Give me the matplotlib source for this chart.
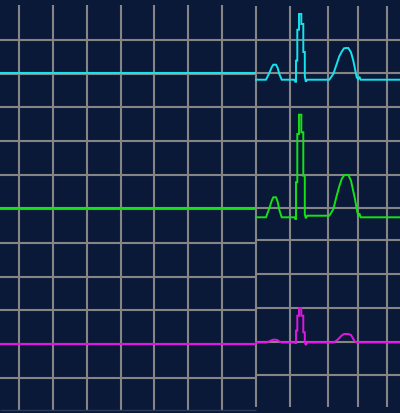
import matplotlib
matplotlib.use('Agg')
import matplotlib.pyplot as plt

# colours
bg = '#0b1939'
grid_col = '#858585'
colors = ['#14e4ee', '#14e214', '#e414e4']

# left panel: flat traces (baseline y in pixels)
left_end = 256
left_base = [74.3, 209.4, 345.0]

# right panel: one beat, shared sample times (repeated times = vertical steps)
t = [256, 266, 269.3, 271.7, 273.3, 276, 277.7, 279.3, 281.7,
     294.3, 295.3, 296, 296, 297.3, 297.3, 299, 299, 301.3, 301.3, 303.3,
     303.3, 304.8, 304.8, 305.8, 307.3,
     329.3, 333.3, 336.7, 339.3, 341.7, 344, 346, 348.3, 351, 353.3, 355,
     356.7, 358.3, 359.3, 360.7, 400]
right_base = [80.7, 218.3, 343.5]

# amplitudes above baseline (pixels up)
cyan_amp = [0, 0, 6.7, 12.4, 15, 15, 11.7, 5.7, 0,
            0, -2, -2, 19, 19, 50, 50, 65.7, 65.7, 55.7, 55.7,
            27.7, 27.7, 3.7, -2, 0,
            0, 5.7, 15.7, 23.4, 28, 31.4, 31.7, 31.7, 27.4, 19, 10.7,
            2.4, 0.7, 3, 0, 0]
green_amp = [0, 0, 9, 16.5, 20, 20, 15.5, 7.5, 0,
             0, -1.7, -1.7, 35, 35, 83.3, 83.3, 102.6, 102.6, 85, 85,
             41.6, 41.6, 3.3, -1, 1.6,
             1.6, 8, 21.6, 31, 38.3, 42, 42.3, 42.3, 36.6, 26, 18.3,
             8.3, 1, 4, 0, 0]
magenta_amp = [0, 0, 1.2, 2.3, 2.8, 2.8, 2.2, 1, 0,
               0, -0.5, -0.5, 11.8, 11.8, 26.8, 26.8, 34.5, 34.5, 26.8, 26.8,
               10.2, 10.2, 0.2, -2.5, 0,
               0, 0, 2, 4.5, 7, 8.5, 8.5, 8.5, 7.5, 3.5, 1,
               0, 0, 0, 0, 0]
amps = [cyan_amp, green_amp, magenta_amp]

# grid layout
left_vx = [19, 52.7, 86.7, 120.7, 154.3, 188.3, 222.3]
left_hy = [40.7, 74.5, 108.3, 142, 176, 210, 243.5, 277.5, 311, 345, 379]
right_vx = [256, 289.7, 328.3, 357.7, 386.7]
right_hy = [40.7, 74, 108, 141.7, 175.7, 209, 241, 275, 309, 342.7, 376]

fig = plt.figure(figsize=(4, 4.14), dpi=100, facecolor=bg)
ax = fig.add_axes([0, 0, 1, 1])
ax.set_facecolor(bg)
ax.set_xlim(0, 400)
ax.set_ylim(414, 0)
ax.axis('off')

lw_grid = 1.5
ax.vlines(left_vx, 6, 411.5, color=grid_col, lw=lw_grid)
ax.hlines(left_hy, 0, left_end, color=grid_col, lw=lw_grid)
ax.hlines([411.5], 0, left_end, color='#2c3a5a', lw=1)
ax.vlines(right_vx, 6.7, 408.3, color=grid_col, lw=lw_grid)
ax.hlines(right_hy, left_end, 400, color=grid_col, lw=lw_grid)

for c, lb, rb, a in zip(colors, left_base, right_base, amps):
    ax.plot([0, left_end], [lb, lb], color=c, lw=1.5, solid_capstyle='butt')
    ax.plot(t, [rb - v for v in a], color=c, lw=1.4, solid_joinstyle='miter')

fig.savefig('out.png', dpi=100, facecolor=bg)
